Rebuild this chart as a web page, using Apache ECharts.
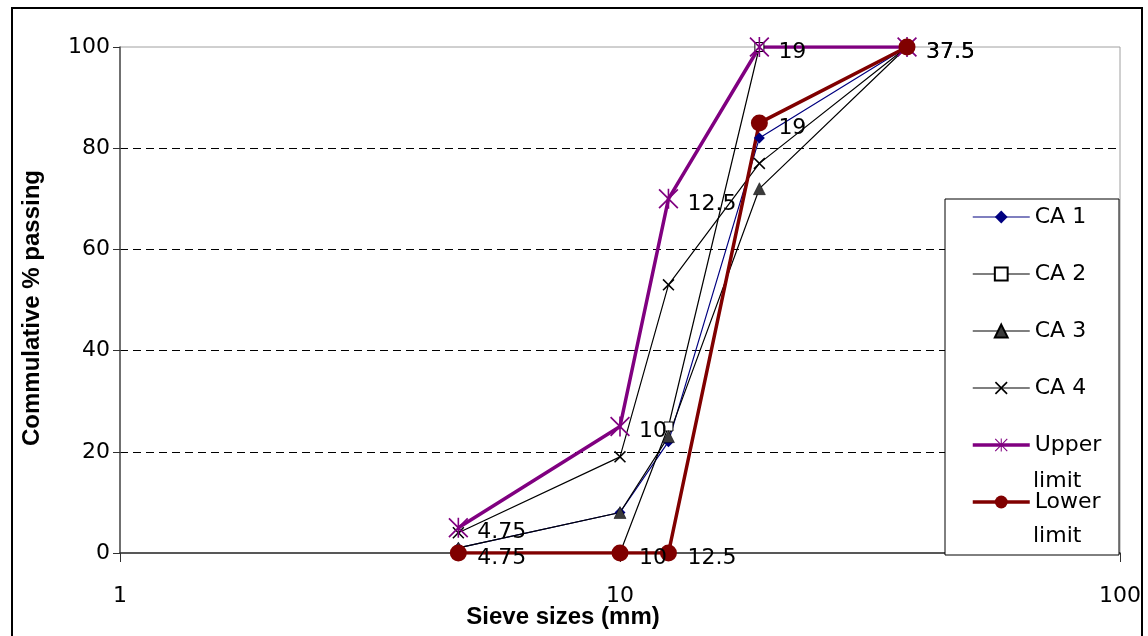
<!DOCTYPE html>
<html>
<head>
<meta charset="utf-8">
<script src="https://cdn.jsdelivr.net/npm/echarts@6/dist/echarts.min.js"></script>
<style>html,body{margin:0;padding:0;background:#fff}#c{width:1148px;height:636px}</style>
</head>
<body>
<div id="c"></div>
<script>
var sieveSizes = [4.75, 10, 12.5, 19, 37.5];
var ca1 = [1, 8, 22, 82, 100];
var ca2 = [0, 0, 25, 100, 100];
var ca3 = [1, 8, 23, 72, 100];
var ca4 = [4, 19, 53, 77, 100];
var upperLimit = [5, 25, 70, 100, 100];
var lowerLimit = [0, 0, 0, 85, 100];
var seriesNames = ['CA 1', 'CA 2', 'CA 3', 'CA 4', 'Upper limit', 'Lower limit'];
var xTicks = [1, 10, 100];
var yTicks = [0, 20, 40, 60, 80, 100];

function pairs(ys) { return sieveSizes.map(function (x, i) { return [x, ys[i]]; }); }

var FONT = 'DejaVu Sans';
var FS = 22;
var crossPath = 'path://M0,0.9L0.9,0L5,4.1L9.1,0L10,0.9L5.9,5L10,9.1L9.1,10L5,5.9L0.9,10L0,9.1L4.1,5Z';
var starPath = 'path://M4.6,0H5.4V10H4.6Z M0,0.6L0.6,0L5,4.4L9.4,0L10,0.6L5.6,5L10,9.4L9.4,10L5,5.6L0.6,10L0,9.4L4.4,5Z';

var labelStyle = function (dist, dy) {
  return {
    show: true, position: 'right', distance: dist, offset: [0, dy],
    fontFamily: FONT, fontSize: FS, color: '#000',
    formatter: function (p) { return String(p.value[0]); }
  };
};

var widths = [1.2, 1.2, 1.2, 1.2, 3.5, 3.5];

var chart = echarts.init(document.getElementById('c'), null, {renderer: 'canvas'});
chart.setOption({
  animation: false,
  backgroundColor: '#fff',
  grid: {left: 120, right: 28, top: 47, bottom: 83, show: true, borderColor: '#a0a0a0', borderWidth: 1, backgroundColor: 'transparent'},
  xAxis: {
    type: 'log', logBase: 10, min: xTicks[0], max: xTicks[xTicks.length - 1],
    axisLine: {show: true, lineStyle: {color: '#303030', width: 1.5}},
    axisTick: {show: true, length: 9, lineStyle: {color: '#303030'}},
    minorTick: {show: false},
    splitLine: {show: false},
    axisLabel: {margin: 32, fontFamily: FONT, fontSize: FS, color: '#000'}
  },
  yAxis: {
    type: 'value', min: yTicks[0], max: yTicks[yTicks.length - 1], interval: 20,
    axisLine: {show: true, lineStyle: {color: '#505050', width: 1.5}},
    axisTick: {show: true, length: 7, lineStyle: {color: '#303030'}},
    splitLine: {show: true, showMaxLine: false, showMinLine: false, lineStyle: {color: '#000', type: [8, 5], width: 1}},
    axisLabel: {margin: 10, fontFamily: FONT, fontSize: FS, color: '#000'}
  },
  legend: {
    orient: 'vertical', left: 971, top: 204, padding: 0, z: 10,
    itemWidth: 57, itemHeight: 16, itemGap: 31, selectedMode: false,
    data: seriesNames.map(function (n, i) { return {name: n, lineStyle: {width: widths[i]}}; }),
    textStyle: {fontFamily: FONT, fontSize: FS, color: '#000', lineHeight: 26},
    formatter: function (n) { return n.split(' ')[0] === 'CA' ? n : n.split(' ')[0]; }
  },
  graphic: [
    {type: 'rect', z: 5, shape: {x: 945, y: 199, width: 174, height: 356}, style: {fill: '#fff', stroke: '#000', lineWidth: 1}},
    {type: 'text', z: 11, x: 1033, y: 481, style: {text: 'limit', font: FS + 'px "DejaVu Sans"', fill: '#000', textVerticalAlign: 'middle'}},
    {type: 'text', z: 11, x: 1033, y: 536, style: {text: 'limit', font: FS + 'px "DejaVu Sans"', fill: '#000', textVerticalAlign: 'middle'}},
    {type: 'text', x: 563, y: 617, style: {text: 'Sieve sizes (mm)', font: 'bold 24px "Liberation Sans"', fill: '#000', textAlign: 'center', textVerticalAlign: 'middle'}},
    {type: 'text', x: 32, y: 308, rotation: Math.PI / 2, style: {text: 'Commulative % passing', font: 'bold 24px "Liberation Sans"', fill: '#000', textAlign: 'center', textVerticalAlign: 'middle'}},
    {type: 'rect', shape: {x: 12, y: 8, width: 1130, height: 680}, style: {fill: 'none', stroke: '#000', lineWidth: 2}}
  ],
  series: [
    {name: seriesNames[0], type: 'line', data: pairs(ca1), symbol: 'diamond', symbolSize: 11,
      lineStyle: {color: '#000080', width: widths[0]}, itemStyle: {color: '#000080'}},
    {name: seriesNames[1], type: 'line', data: pairs(ca2), symbol: 'rect', symbolSize: 9,
      lineStyle: {color: '#000', width: widths[1]}, itemStyle: {color: '#fff', borderColor: '#000', borderWidth: 1}},
    {name: seriesNames[2], type: 'line', data: pairs(ca3), symbol: 'triangle', symbolSize: 12,
      lineStyle: {color: '#000', width: widths[2]}, itemStyle: {color: '#3a3a3a', borderColor: '#000', borderWidth: 0.5}},
    {name: seriesNames[3], type: 'line', data: pairs(ca4), symbol: crossPath, symbolSize: 12,
      lineStyle: {color: '#000', width: widths[3]}, itemStyle: {color: '#000'}},
    {name: seriesNames[4], type: 'line', data: pairs(upperLimit), symbol: starPath, symbolSize: 20,
      lineStyle: {color: '#800080', width: widths[4]}, itemStyle: {color: '#800080'},
      label: labelStyle(9, 5)},
    {name: seriesNames[5], type: 'line', data: pairs(lowerLimit), symbol: 'circle', symbolSize: 17,
      lineStyle: {color: '#800000', width: widths[5]}, itemStyle: {color: '#800000'},
      label: labelStyle(10.5, 5)}
  ]
});
</script>
</body>
</html>
